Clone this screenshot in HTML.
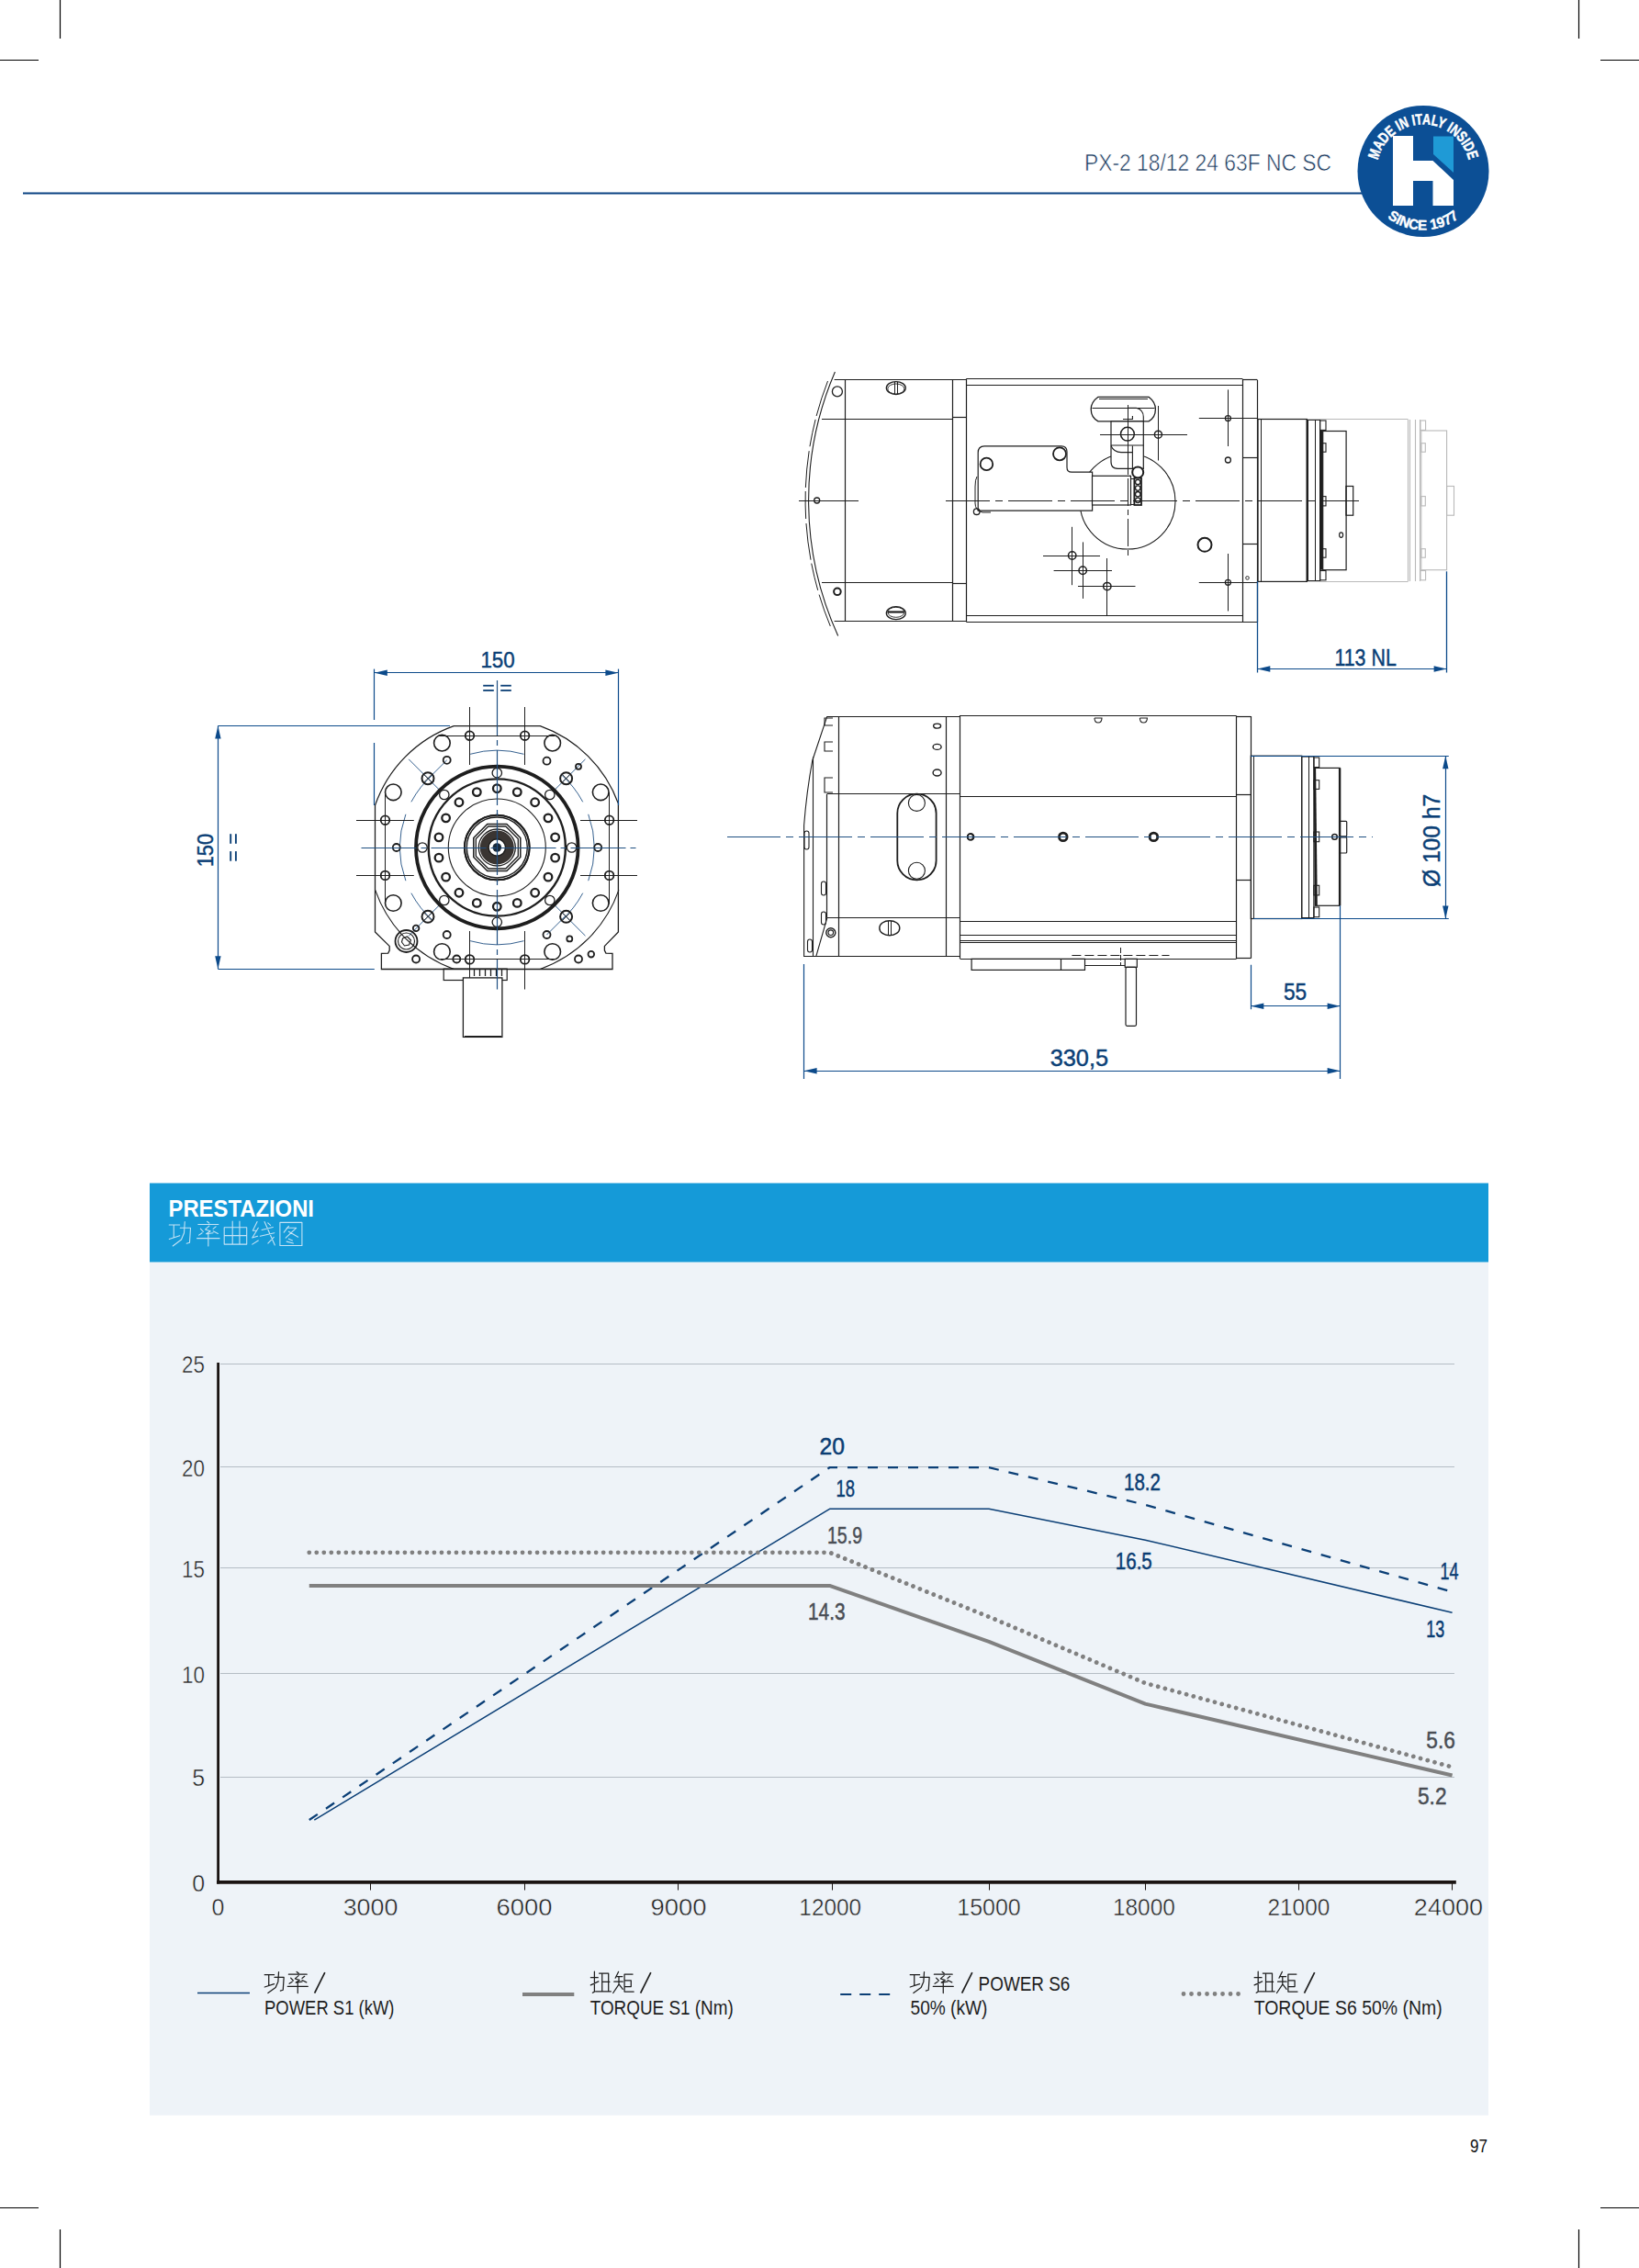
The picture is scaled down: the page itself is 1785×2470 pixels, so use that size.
<!DOCTYPE html>
<html><head><meta charset="utf-8"><style>
html,body{margin:0;padding:0;background:#fff;}
body{width:1785px;height:2470px;overflow:hidden;position:relative;}
svg{position:absolute;left:0;top:0;}
</style></head><body>
<svg width="1785" height="2470" viewBox="0 0 1785 2470">
<line x1="65.5" y1="0" x2="65.5" y2="42" stroke="#000" stroke-width="1.2"/>
<line x1="0" y1="65.5" x2="42" y2="65.5" stroke="#000" stroke-width="1.2"/>
<line x1="1719.5" y1="0" x2="1719.5" y2="42" stroke="#000" stroke-width="1.2"/>
<line x1="1743" y1="65.5" x2="1785" y2="65.5" stroke="#000" stroke-width="1.2"/>
<line x1="0" y1="2404.5" x2="42" y2="2404.5" stroke="#000" stroke-width="1.2"/>
<line x1="65.5" y1="2428" x2="65.5" y2="2470" stroke="#000" stroke-width="1.2"/>
<line x1="1743" y1="2404.5" x2="1785" y2="2404.5" stroke="#000" stroke-width="1.2"/>
<line x1="1719.5" y1="2428" x2="1719.5" y2="2470" stroke="#000" stroke-width="1.2"/>
<line x1="25" y1="210.5" x2="1490" y2="210.5" stroke="#0a4282" stroke-width="2.2"/>
<text x="1181" y="185.8" font-family="Liberation Sans" font-size="26" fill="#1b3a5e" stroke="#fff" stroke-width="0.55" textLength="269" lengthAdjust="spacingAndGlyphs">PX-2 18/12 24 63F NC SC</text>
<circle cx="1550" cy="186.5" r="71.5" stroke="none" stroke-width="0" fill="#0c4f95"/>
<path d="M1517 148 L1539 148 L1539 175 L1560.5 175 L1583 196 L1583 224 L1560.5 224 L1560.5 197 L1539 197 L1539 224 L1517 224Z" stroke="none" stroke-width="0" fill="#ffffff"/>
<path d="M1561 148.5 L1583 148.5 L1583 188 L1561 168Z" stroke="none" stroke-width="0" fill="#1f9ad6"/>
<defs><path id="arcT" d="M 1510.93 219.28 A 51 51 0 1 1 1589.07 219.28"/><path id="arcB" d="M 1500.97 145.36 A 64 64 0 1 0 1599.03 145.36"/></defs>
<text font-family="Liberation Sans" font-weight="bold" font-size="16.5" fill="#fff"><textPath href="#arcT" stroke="#fff" stroke-width="0.5" startOffset="50%" text-anchor="middle" textLength="136" lengthAdjust="spacingAndGlyphs">MADE IN ITALY INSIDE</textPath></text>
<text font-family="Liberation Sans" font-weight="bold" font-size="15.5" fill="#fff"><textPath href="#arcB" stroke="#fff" stroke-width="0.4" startOffset="50%" text-anchor="middle" textLength="84" lengthAdjust="spacingAndGlyphs">SINCE 1977</textPath></text>
<rect x="163" y="1288.5" width="1458" height="86.2" fill="#159ad8"/>
<rect x="163" y="1374.7" width="1458" height="929" fill="#eef3f8"/>
<text x="183.5" y="1325.4" font-family="Liberation Sans" font-size="25" fill="#ffffff" font-weight="bold" textLength="158.5" lengthAdjust="spacingAndGlyphs">PRESTAZIONI</text>
<line x1="240" y1="1935.5" x2="1584" y2="1935.5" stroke="#b5bdc5" stroke-width="1.1"/>
<line x1="240" y1="1822.5" x2="1584" y2="1822.5" stroke="#b5bdc5" stroke-width="1.1"/>
<line x1="240" y1="1707.5" x2="1584" y2="1707.5" stroke="#b5bdc5" stroke-width="1.1"/>
<line x1="240" y1="1597.5" x2="1584" y2="1597.5" stroke="#b5bdc5" stroke-width="1.1"/>
<line x1="240" y1="1485.5" x2="1584" y2="1485.5" stroke="#b5bdc5" stroke-width="1.1"/>
<line x1="237.6" y1="1484" x2="237.6" y2="2051.5" stroke="#1a1412" stroke-width="2.8"/>
<line x1="236" y1="2049.9" x2="1585.8" y2="2049.9" stroke="#1a1412" stroke-width="3.7"/>
<line x1="403.5" y1="2051" x2="403.5" y2="2058.5" stroke="#1a1412" stroke-width="1"/>
<line x1="571.5" y1="2051" x2="571.5" y2="2058.5" stroke="#1a1412" stroke-width="1"/>
<line x1="738.5" y1="2051" x2="738.5" y2="2058.5" stroke="#1a1412" stroke-width="1"/>
<line x1="906.5" y1="2051" x2="906.5" y2="2058.5" stroke="#1a1412" stroke-width="1"/>
<line x1="1077.5" y1="2051" x2="1077.5" y2="2058.5" stroke="#1a1412" stroke-width="1"/>
<line x1="1247.5" y1="2051" x2="1247.5" y2="2058.5" stroke="#1a1412" stroke-width="1"/>
<line x1="1414.5" y1="2051" x2="1414.5" y2="2058.5" stroke="#1a1412" stroke-width="1"/>
<line x1="1581.5" y1="2051" x2="1581.5" y2="2058.5" stroke="#1a1412" stroke-width="1"/>
<text x="223.1" y="2060.0" font-family="Liberation Sans" font-size="25" fill="#1e1e1e" stroke="#eef3f8" stroke-width="0.45" text-anchor="end">0</text>
<text x="223.1" y="1945.4" font-family="Liberation Sans" font-size="25" fill="#1e1e1e" stroke="#eef3f8" stroke-width="0.45" text-anchor="end">5</text>
<text x="223.1" y="1832.5" font-family="Liberation Sans" font-size="25" fill="#1e1e1e" stroke="#eef3f8" stroke-width="0.45" text-anchor="end" textLength="25" lengthAdjust="spacingAndGlyphs">10</text>
<text x="223.1" y="1718.1" font-family="Liberation Sans" font-size="25" fill="#1e1e1e" stroke="#eef3f8" stroke-width="0.45" text-anchor="end" textLength="25" lengthAdjust="spacingAndGlyphs">15</text>
<text x="223.1" y="1607.7" font-family="Liberation Sans" font-size="25" fill="#1e1e1e" stroke="#eef3f8" stroke-width="0.45" text-anchor="end" textLength="25" lengthAdjust="spacingAndGlyphs">20</text>
<text x="223.1" y="1495.3" font-family="Liberation Sans" font-size="25" fill="#1e1e1e" stroke="#eef3f8" stroke-width="0.45" text-anchor="end" textLength="25" lengthAdjust="spacingAndGlyphs">25</text>
<text x="237.4" y="2086.4" font-family="Liberation Sans" font-size="25" fill="#1e1e1e" stroke="#eef3f8" stroke-width="0.45" text-anchor="middle">0</text>
<text x="403.5" y="2086.4" font-family="Liberation Sans" font-size="25" fill="#1e1e1e" stroke="#eef3f8" stroke-width="0.45" text-anchor="middle" textLength="59.7" lengthAdjust="spacingAndGlyphs">3000</text>
<text x="571.0" y="2086.4" font-family="Liberation Sans" font-size="25" fill="#1e1e1e" stroke="#eef3f8" stroke-width="0.45" text-anchor="middle" textLength="61" lengthAdjust="spacingAndGlyphs">6000</text>
<text x="738.9" y="2086.4" font-family="Liberation Sans" font-size="25" fill="#1e1e1e" stroke="#eef3f8" stroke-width="0.45" text-anchor="middle" textLength="61" lengthAdjust="spacingAndGlyphs">9000</text>
<text x="904.2" y="2086.4" font-family="Liberation Sans" font-size="25" fill="#1e1e1e" stroke="#eef3f8" stroke-width="0.45" text-anchor="middle" textLength="67.7" lengthAdjust="spacingAndGlyphs">12000</text>
<text x="1077.0" y="2086.4" font-family="Liberation Sans" font-size="25" fill="#1e1e1e" stroke="#eef3f8" stroke-width="0.45" text-anchor="middle" textLength="69.5" lengthAdjust="spacingAndGlyphs">15000</text>
<text x="1245.9" y="2086.4" font-family="Liberation Sans" font-size="25" fill="#1e1e1e" stroke="#eef3f8" stroke-width="0.45" text-anchor="middle" textLength="68" lengthAdjust="spacingAndGlyphs">18000</text>
<text x="1414.4" y="2086.4" font-family="Liberation Sans" font-size="25" fill="#1e1e1e" stroke="#eef3f8" stroke-width="0.45" text-anchor="middle" textLength="68" lengthAdjust="spacingAndGlyphs">21000</text>
<text x="1577.5" y="2086.4" font-family="Liberation Sans" font-size="25" fill="#1e1e1e" stroke="#eef3f8" stroke-width="0.45" text-anchor="middle" textLength="75.3" lengthAdjust="spacingAndGlyphs">24000</text>
<path d="M342.3 1982.06 L903.5 1643.36 L1077 1643.36 L1247.3 1677.23 L1581.6 1756.26" stroke="#0b3f76" stroke-width="1.5" fill="none" stroke-linejoin="round"/>
<path d="M336.76 1982.06 L903.5 1598.2 L1077 1598.2 L1247.3 1638.84 L1581.6 1733.68" stroke="#0b3f76" stroke-width="2.3" fill="none" stroke-dasharray="11 11"/>
<path d="M336.76 1726.91 L903.5 1726.91 L1077 1787.87 L1247.3 1855.61 L1581.6 1933.51" stroke="#808080" stroke-width="4" fill="none" stroke-linejoin="round"/>
<path d="M336.76 1690.78 L903.5 1690.78 L1077 1760.78 L1247.3 1833.03 L1581.6 1924.48" stroke="#808080" stroke-width="4.8" fill="none" stroke-dasharray="0.01 8" stroke-linecap="round"/>
<text x="892.6" y="1583.6" font-family="Liberation Sans" font-size="26" fill="#0b3d73" stroke="#0b3d73" stroke-width="0.5" textLength="27.4" lengthAdjust="spacingAndGlyphs">20</text>
<text x="910.5" y="1629.7" font-family="Liberation Sans" font-size="26" fill="#0b3d73" stroke="#0b3d73" stroke-width="0.5" textLength="20.5" lengthAdjust="spacingAndGlyphs">18</text>
<text x="901" y="1680.6" font-family="Liberation Sans" font-size="26" fill="#4a4e55" stroke="#4a4e55" stroke-width="0.5" textLength="38" lengthAdjust="spacingAndGlyphs">15.9</text>
<text x="880" y="1764.4" font-family="Liberation Sans" font-size="26" fill="#4a4e55" stroke="#4a4e55" stroke-width="0.5" textLength="40.5" lengthAdjust="spacingAndGlyphs">14.3</text>
<text x="1224" y="1623" font-family="Liberation Sans" font-size="26" fill="#0b3d73" stroke="#0b3d73" stroke-width="0.5" textLength="40" lengthAdjust="spacingAndGlyphs">18.2</text>
<text x="1214.8" y="1708.8" font-family="Liberation Sans" font-size="26" fill="#0b3d73" stroke="#0b3d73" stroke-width="0.5" textLength="40" lengthAdjust="spacingAndGlyphs">16.5</text>
<text x="1568.6" y="1720.4" font-family="Liberation Sans" font-size="26" fill="#0b3d73" stroke="#0b3d73" stroke-width="0.5" textLength="20" lengthAdjust="spacingAndGlyphs">14</text>
<text x="1553.3" y="1783" font-family="Liberation Sans" font-size="26" fill="#0b3d73" stroke="#0b3d73" stroke-width="0.5" textLength="20" lengthAdjust="spacingAndGlyphs">13</text>
<text x="1553.3" y="1903.6" font-family="Liberation Sans" font-size="26" fill="#4a4e55" stroke="#4a4e55" stroke-width="0.5" textLength="31.5" lengthAdjust="spacingAndGlyphs">5.6</text>
<text x="1544" y="1965.2" font-family="Liberation Sans" font-size="26" fill="#4a4e55" stroke="#4a4e55" stroke-width="0.5" textLength="31.5" lengthAdjust="spacingAndGlyphs">5.2</text>
<line x1="215" y1="2170.5" x2="272" y2="2170.5" stroke="#0b3f76" stroke-width="1.3"/>
<line x1="569" y1="2172" x2="625.3" y2="2172" stroke="#808080" stroke-width="4"/>
<line x1="915.2" y1="2172" x2="976" y2="2172" stroke="#0b3f76" stroke-width="2.2" stroke-dasharray="12 9"/>
<line x1="1289" y1="2171.5" x2="1351" y2="2171.5" stroke="#808080" stroke-width="4.8" stroke-dasharray="0.01 8.5" stroke-linecap="round"/>
<text x="288" y="2193.9" font-family="Liberation Sans" font-size="21.3" fill="#1e1e1e" textLength="141.5" lengthAdjust="spacingAndGlyphs">POWER S1 (kW)</text>
<text x="642.7" y="2193.9" font-family="Liberation Sans" font-size="21.3" fill="#1e1e1e" textLength="156" lengthAdjust="spacingAndGlyphs">TORQUE S1 (Nm)</text>
<text x="991.5" y="2193.9" font-family="Liberation Sans" font-size="21.3" fill="#1e1e1e" textLength="84" lengthAdjust="spacingAndGlyphs">50% (kW)</text>
<text x="1365.7" y="2193.9" font-family="Liberation Sans" font-size="21.3" fill="#1e1e1e" textLength="205" lengthAdjust="spacingAndGlyphs">TORQUE S6 50% (Nm)</text>
<text x="1065.6" y="2167.8" font-family="Liberation Sans" font-size="21.3" fill="#1e1e1e" textLength="99.7" lengthAdjust="spacingAndGlyphs">POWER S6</text>
<line x1="342.6" y1="2170.6" x2="353.8" y2="2148.1" stroke="#1e1e1e" stroke-width="1.7"/>
<line x1="697.6" y1="2170.6" x2="708.8" y2="2148.1" stroke="#1e1e1e" stroke-width="1.7"/>
<line x1="1047.6" y1="2170.6" x2="1058.8" y2="2148.1" stroke="#1e1e1e" stroke-width="1.7"/>
<line x1="1420.5" y1="2170.6" x2="1431.7" y2="2148.1" stroke="#1e1e1e" stroke-width="1.7"/>
<text x="1601" y="2344" font-family="Liberation Sans" font-size="19.5" fill="#111" textLength="19" lengthAdjust="spacingAndGlyphs">97</text>
<line x1="908.6" y1="413.5" x2="1052.4" y2="413.5" stroke="#1e1e1e" stroke-width="1.2"/>
<line x1="908.6" y1="676.5" x2="1052.4" y2="676.5" stroke="#1e1e1e" stroke-width="1.2"/>
<line x1="920.5" y1="413.5" x2="920.5" y2="676.3" stroke="#1e1e1e" stroke-width="1.2"/>
<line x1="1037.5" y1="413.5" x2="1037.5" y2="676.3" stroke="#1e1e1e" stroke-width="1.2"/>
<line x1="1052.5" y1="412.4" x2="1052.5" y2="677.2" stroke="#1e1e1e" stroke-width="1.2"/>
<line x1="895" y1="456.5" x2="1037.6" y2="456.5" stroke="#1e1e1e" stroke-width="1.2"/>
<line x1="895" y1="634.5" x2="1037.6" y2="634.5" stroke="#1e1e1e" stroke-width="1.2"/>
<line x1="1037.6" y1="454.5" x2="1052.4" y2="454.5" stroke="#1e1e1e" stroke-width="1.2"/>
<line x1="1037.6" y1="635.5" x2="1052.4" y2="635.5" stroke="#1e1e1e" stroke-width="1.2"/>
<path d="M 909.4 405 A 354.7 354.7 0 0 0 912.68 692.4" stroke="#1e1e1e" stroke-width="1.1" fill="none"/>
<path d="M 901.52 415 A 358.2 358.2 0 0 0 904.33 682" stroke="#1e1e1e" stroke-width="1.0" fill="none" stroke-dasharray="40 4 30 5"/>
<circle cx="911.9" cy="426.4" r="5.5" stroke="#1e1e1e" stroke-width="1.3" fill="none"/>
<circle cx="889.7" cy="545" r="3" stroke="#1e1e1e" stroke-width="1.3" fill="none"/>
<circle cx="911.9" cy="644.3" r="3.8" stroke="#1e1e1e" stroke-width="2" fill="none"/>
<ellipse cx="975.8" cy="422.6" rx="10.5" ry="7" stroke="#1e1e1e" stroke-width="1.3" fill="none"/>
<ellipse cx="975.8" cy="423.5" rx="9" ry="5.5" stroke="#1e1e1e" stroke-width="0.9" fill="none"/>
<line x1="974.5" y1="415.8" x2="974.5" y2="429.5" stroke="#1e1e1e" stroke-width="1"/>
<line x1="977.5" y1="415.8" x2="977.5" y2="429.5" stroke="#1e1e1e" stroke-width="1"/>
<ellipse cx="975.8" cy="667.7" rx="10.5" ry="7" stroke="#1e1e1e" stroke-width="1.3" fill="none"/>
<ellipse cx="975.8" cy="666.8" rx="9" ry="5.5" stroke="#1e1e1e" stroke-width="0.9" fill="none"/>
<line x1="967" y1="666.5" x2="984.5" y2="666.5" stroke="#1e1e1e" stroke-width="2.2"/>
<line x1="870" y1="545.5" x2="935" y2="545.5" stroke="#1e1e1e" stroke-width="1"/>
<line x1="1052.4" y1="412.5" x2="1353.2" y2="412.5" stroke="#1e1e1e" stroke-width="1.2"/>
<line x1="1052.4" y1="419.5" x2="1353.2" y2="419.5" stroke="#1e1e1e" stroke-width="1.2"/>
<line x1="1052.4" y1="670.5" x2="1353.2" y2="670.5" stroke="#1e1e1e" stroke-width="1.2"/>
<line x1="1052.4" y1="677.5" x2="1369.3" y2="677.5" stroke="#1e1e1e" stroke-width="1.2"/>
<line x1="1353.5" y1="412.7" x2="1353.5" y2="677.2" stroke="#1e1e1e" stroke-width="1.2"/>
<line x1="1369.5" y1="413.7" x2="1369.5" y2="677" stroke="#1e1e1e" stroke-width="1.2"/>
<line x1="1353.2" y1="413.5" x2="1369.3" y2="413.5" stroke="#1e1e1e" stroke-width="1.2"/>
<line x1="1353.2" y1="498.5" x2="1369.3" y2="498.5" stroke="#1e1e1e" stroke-width="1.2"/>
<line x1="1353.2" y1="592.5" x2="1369.3" y2="592.5" stroke="#1e1e1e" stroke-width="1.2"/>
<circle cx="1228" cy="546" r="52" stroke="#1e1e1e" stroke-width="1.1" fill="none"/>
<path d="M 1189.6 514.2 L 1167 514.2 Q 1162 514.2 1162 509 L 1162 492 Q 1162 485.9 1156 485.9 L 1072 485.9 Q 1065.2 485.9 1065.2 493 L 1065.2 556.2 L 1189.6 556.2 Z" stroke="#1e1e1e" stroke-width="1.2" fill="#fff"/>
<path d="M 1064 519 Q 1062 522 1062 530 L 1062 548 Q 1062 556 1070 558 L 1079 558" stroke="#1e1e1e" stroke-width="1" fill="none"/>
<circle cx="1074.4" cy="505.4" r="6.8" stroke="#1e1e1e" stroke-width="1.8" fill="none"/>
<circle cx="1154" cy="494.3" r="7" stroke="#1e1e1e" stroke-width="1.8" fill="none"/>
<circle cx="1063.7" cy="557.2" r="3.3" stroke="#1e1e1e" stroke-width="1.3" fill="none"/>
<rect x="1189.5" y="518.3" width="42" height="31.7" stroke="#1e1e1e" stroke-width="1.2" fill="#fff"/>
<path d="M 1196 432.3 L 1251 432.3 Q 1258.4 438 1258.4 445.6 Q 1258.4 455 1251 458.9 L 1196 458.9 Q 1188.2 455 1188.2 445.6 Q 1188.2 438 1196 432.3 Z" stroke="#1e1e1e" stroke-width="1.3" fill="#fff"/>
<line x1="1197" y1="434.5" x2="1250" y2="434.5" stroke="#1e1e1e" stroke-width="1"/>
<line x1="1189.5" y1="444.5" x2="1257.5" y2="444.5" stroke="#1e1e1e" stroke-width="1.1"/>
<path d="M 1228.7 444.2 L 1237.4 444.2 Q 1245.3 446 1245.3 454 L 1245.3 459" stroke="#1e1e1e" stroke-width="1.1" fill="none"/>
<path d="M 1223 456.5 L 1233.4 456.5 L 1233.4 453.5 L 1234 453.5" stroke="#1e1e1e" stroke-width="1.1" fill="none"/>
<path d="M 1210 458.9 L 1210 503 Q 1210 510.4 1217.5 510.4 L 1245.3 510.4 L 1245.3 458.9 Z" stroke="#1e1e1e" stroke-width="1.2" fill="#fff"/>
<path d="M 1210 485 L 1245.3 485 M 1210 485.5 Q 1213 492.6 1221 492.6 L 1233.4 492.6 M 1233.4 485.8 L 1233.4 510.4" stroke="#1e1e1e" stroke-width="1.1" fill="none"/>
<circle cx="1227.9" cy="472.7" r="7.4" stroke="#1e1e1e" stroke-width="1.5" fill="none"/>
<line x1="1228.5" y1="441" x2="1228.5" y2="517" stroke="#1e1e1e" stroke-width="1"/>
<line x1="1228.5" y1="521" x2="1228.5" y2="605" stroke="#1e1e1e" stroke-width="1" stroke-dasharray="30 4 6 4"/>
<circle cx="1239.2" cy="514.4" r="6" stroke="#1e1e1e" stroke-width="2" fill="#fff"/>
<rect x="1235.4" y="520.7" width="7.6" height="29.3" stroke="#1e1e1e" stroke-width="1.8" fill="#fff"/>
<circle cx="1239.2" cy="525" r="2.7" stroke="#1e1e1e" stroke-width="1.3" fill="none"/>
<circle cx="1239.2" cy="531.6" r="2.7" stroke="#1e1e1e" stroke-width="1.3" fill="none"/>
<circle cx="1239.2" cy="538.2" r="2.7" stroke="#1e1e1e" stroke-width="1.3" fill="none"/>
<circle cx="1239.2" cy="544.8" r="2.7" stroke="#1e1e1e" stroke-width="1.3" fill="none"/>
<rect x="1231.5" y="521.5" width="3.9" height="28" stroke="#1e1e1e" stroke-width="1" fill="none"/>
<line x1="1030" y1="545.5" x2="1480" y2="545.5" stroke="#1e1e1e" stroke-width="1" stroke-dasharray="48 6 8 6"/>
<circle cx="1261.4" cy="473.2" r="4" stroke="#1e1e1e" stroke-width="1.5" fill="none"/>
<line x1="1198" y1="473.5" x2="1293" y2="473.5" stroke="#1e1e1e" stroke-width="1"/>
<line x1="1261.5" y1="442" x2="1261.5" y2="501.5" stroke="#1e1e1e" stroke-width="1"/>
<circle cx="1337.4" cy="455.6" r="3" stroke="#1e1e1e" stroke-width="1.3" fill="none"/>
<line x1="1305.8" y1="455.5" x2="1370" y2="455.5" stroke="#1e1e1e" stroke-width="1"/>
<line x1="1337.5" y1="424.4" x2="1337.5" y2="486" stroke="#1e1e1e" stroke-width="1"/>
<circle cx="1337.4" cy="501" r="3" stroke="#1e1e1e" stroke-width="1.3" fill="none"/>
<circle cx="1312" cy="593.3" r="7.5" stroke="#1e1e1e" stroke-width="2" fill="none"/>
<circle cx="1337.4" cy="634.3" r="3" stroke="#1e1e1e" stroke-width="1.3" fill="none"/>
<line x1="1305.8" y1="634.5" x2="1370" y2="634.5" stroke="#1e1e1e" stroke-width="1"/>
<line x1="1337.5" y1="603" x2="1337.5" y2="665.5" stroke="#1e1e1e" stroke-width="1"/>
<circle cx="1167.7" cy="605" r="4.2" stroke="#1e1e1e" stroke-width="1.5" fill="none"/>
<line x1="1136" y1="605.5" x2="1198" y2="605.5" stroke="#1e1e1e" stroke-width="1"/>
<line x1="1167.5" y1="573.8" x2="1167.5" y2="637.2" stroke="#1e1e1e" stroke-width="1"/>
<circle cx="1179.2" cy="621.2" r="4.2" stroke="#1e1e1e" stroke-width="1.5" fill="none"/>
<line x1="1147.6" y1="621.5" x2="1211" y2="621.5" stroke="#1e1e1e" stroke-width="1"/>
<line x1="1179.5" y1="590.4" x2="1179.5" y2="651.9" stroke="#1e1e1e" stroke-width="1"/>
<circle cx="1205.8" cy="638.6" r="4.2" stroke="#1e1e1e" stroke-width="1.5" fill="none"/>
<line x1="1174" y1="638.5" x2="1236.5" y2="638.5" stroke="#1e1e1e" stroke-width="1"/>
<line x1="1205.5" y1="608" x2="1205.5" y2="670.4" stroke="#1e1e1e" stroke-width="1"/>
<circle cx="1358.5" cy="629.4" r="1.8" stroke="#1e1e1e" stroke-width="1" fill="none"/>
<rect x="1370" y="456.5" width="53.3" height="176.9" stroke="#1e1e1e" stroke-width="1.2" fill="none"/>
<line x1="1373.5" y1="457" x2="1373.5" y2="633" stroke="#1e1e1e" stroke-width="1"/>
<rect x="1423.3" y="457.3" width="14.3" height="175.3" stroke="#1e1e1e" stroke-width="1.2" fill="none"/>
<line x1="1424.5" y1="457.3" x2="1424.5" y2="632.6" stroke="#1e1e1e" stroke-width="1"/>
<line x1="1432.5" y1="457.3" x2="1432.5" y2="632.6" stroke="#1e1e1e" stroke-width="1"/>
<rect x="1437.6" y="458" width="6.4" height="10.4" stroke="#1e1e1e" stroke-width="1.1" fill="none"/>
<rect x="1437.6" y="621.5" width="6.4" height="10.3" stroke="#1e1e1e" stroke-width="1.1" fill="none"/>
<line x1="1439.2" y1="469" x2="1439.2" y2="620.7" stroke="#1e1e1e" stroke-width="2.6"/>
<rect x="1440.7" y="469.5" width="25.4" height="151.2" stroke="#1e1e1e" stroke-width="1.2" fill="none"/>
<rect x="1439.5" y="482.7" width="4.5" height="9.5" stroke="#1e1e1e" stroke-width="1.1" fill="none"/>
<rect x="1439.5" y="540.6" width="4.5" height="10.3" stroke="#1e1e1e" stroke-width="1.1" fill="none"/>
<rect x="1439.5" y="597.7" width="4.5" height="9.5" stroke="#1e1e1e" stroke-width="1.1" fill="none"/>
<rect x="1466" y="529.5" width="7.7" height="31.7" stroke="#1e1e1e" stroke-width="1.2" fill="none"/>
<ellipse cx="1460.6" cy="582.6" rx="2" ry="2.8" stroke="#1e1e1e" stroke-width="1.2" fill="none"/>
<line x1="1437.6" y1="456.5" x2="1533.5" y2="456.5" stroke="#b9b9b9" stroke-width="1.1"/>
<line x1="1437.6" y1="633.5" x2="1533.5" y2="633.5" stroke="#b9b9b9" stroke-width="1.1"/>
<line x1="1533.5" y1="457" x2="1533.5" y2="633" stroke="#b9b9b9" stroke-width="1.1"/>
<line x1="1535.5" y1="457" x2="1535.5" y2="633" stroke="#b9b9b9" stroke-width="1.1"/>
<line x1="1541.5" y1="457" x2="1541.5" y2="633" stroke="#b9b9b9" stroke-width="1.1"/>
<line x1="1546.5" y1="457" x2="1546.5" y2="633" stroke="#b9b9b9" stroke-width="1.1"/>
<rect x="1547" y="458" width="5.6" height="10.4" stroke="#b9b9b9" stroke-width="1.1" fill="none"/>
<rect x="1547" y="621.5" width="5.6" height="10.3" stroke="#b9b9b9" stroke-width="1.1" fill="none"/>
<rect x="1547.8" y="469" width="27.8" height="151.7" stroke="#b9b9b9" stroke-width="1.1" fill="none"/>
<rect x="1547.8" y="482.7" width="4.5" height="9.5" stroke="#b9b9b9" stroke-width="1.1" fill="none"/>
<rect x="1547.8" y="540.6" width="4.5" height="10.3" stroke="#b9b9b9" stroke-width="1.1" fill="none"/>
<rect x="1547.8" y="597.7" width="4.5" height="9.5" stroke="#b9b9b9" stroke-width="1.1" fill="none"/>
<rect x="1575.6" y="529.5" width="7.9" height="31.7" stroke="#b9b9b9" stroke-width="1.1" fill="none"/>
<line x1="1369.5" y1="633" x2="1369.5" y2="732.5" stroke="#0c4a8a" stroke-width="1.3"/>
<line x1="1575.5" y1="622.3" x2="1575.5" y2="732.5" stroke="#0c4a8a" stroke-width="1.3"/>
<line x1="1369.3" y1="728.5" x2="1575.6" y2="728.5" stroke="#0c4a8a" stroke-width="1.2"/>
<path d="M1369.3 728.5 L1383.3 725.3 L1383.3 731.7Z" stroke="none" stroke-width="0" fill="#0c4a8a"/>
<path d="M1575.6 728.5 L1561.6 731.7 L1561.6 725.3Z" stroke="none" stroke-width="0" fill="#0c4a8a"/>
<text x="1453.4" y="724.6" font-family="Liberation Sans" font-size="25.5" fill="#0b3f76" stroke="#0b3f76" stroke-width="0.45" textLength="67.4" lengthAdjust="spacingAndGlyphs">113 NL</text>
<path d="M 494.28 790.6 L 588.32 790.6 A 140.5 140.5 0 0 1 673.4 875.15 L 673.4 1015 L 658.4 1030.4 L 658.4 1035.1 L 659.9 1038.1 L 667 1038.3 L 667 1055.5 L 415.4 1055.5 L 415.4 1038.3 L 422.7 1038.1 L 424.2 1035.1 L 424.2 1030.4 L 408.5 1015 L 408.5 877.13 A 140.5 140.5 0 0 1 494.28 790.6 Z" stroke="#1e1e1e" stroke-width="1.3" fill="none" stroke-linejoin="miter"/>
<path d="M 408.7 969.44 A 140.5 140.5 0 0 0 494.4 1055.44" stroke="#1e1e1e" stroke-width="1.1" fill="none"/>
<path d="M 588.2 1055.44 A 140.5 140.5 0 0 0 673.9 969.44" stroke="#1e1e1e" stroke-width="1.1" fill="none"/>
<line x1="478" y1="801.5" x2="604" y2="801.5" stroke="#1e1e1e" stroke-width="1"/>
<line x1="480" y1="1044.5" x2="604" y2="1044.5" stroke="#1e1e1e" stroke-width="1"/>
<path d="M 512.14 821.3 A 105.8 105.8 0 0 1 570.46 821.3" stroke="#1f4f82" stroke-width="0.9" fill="none"/>
<path d="M 570.46 1024.7 A 105.8 105.8 0 0 1 512.14 1024.7" stroke="#1f4f82" stroke-width="0.9" fill="none"/>
<path d="M 441.88 959.19 A 105.8 105.8 0 0 1 441.88 886.81" stroke="#1f4f82" stroke-width="0.9" fill="none"/>
<path d="M 640.72 886.81 A 105.8 105.8 0 0 1 640.72 959.19" stroke="#1f4f82" stroke-width="0.9" fill="none"/>
<path d="M 447.88 873.33 A 105.8 105.8 0 0 1 471.89 843.15" stroke="#1f4f82" stroke-width="0.9" fill="none"/>
<path d="M 610.71 843.15 A 105.8 105.8 0 0 1 634.72 873.33" stroke="#1f4f82" stroke-width="0.9" fill="none"/>
<path d="M 471.89 1002.85 A 105.8 105.8 0 0 1 447.88 972.67" stroke="#1f4f82" stroke-width="0.9" fill="none"/>
<path d="M 634.72 972.67 A 105.8 105.8 0 0 1 610.71 1002.85" stroke="#1f4f82" stroke-width="0.9" fill="none"/>
<line x1="596.45" y1="978.15" x2="637.47" y2="1019.17" stroke="#1f4f82" stroke-width="0.9"/>
<line x1="486.15" y1="978.15" x2="445.13" y2="1019.17" stroke="#1f4f82" stroke-width="0.9"/>
<line x1="486.15" y1="867.85" x2="445.13" y2="826.83" stroke="#1f4f82" stroke-width="0.9"/>
<line x1="596.45" y1="867.85" x2="637.47" y2="826.83" stroke="#1f4f82" stroke-width="0.9"/>
<line x1="466.3" y1="848.1" x2="486.7" y2="827.8" stroke="#1f4f82" stroke-width="0.9"/>
<line x1="615.9" y1="997.6" x2="595.5" y2="1018" stroke="#1f4f82" stroke-width="0.9"/>
<circle cx="541.3" cy="923" r="88.3" stroke="#1e1e1e" stroke-width="3.8" fill="none"/>
<circle cx="541.3" cy="923" r="74.6" stroke="#1e1e1e" stroke-width="2.4" fill="none"/>
<circle cx="541.3" cy="923" r="53" stroke="#1e1e1e" stroke-width="1.1" fill="none"/>
<circle cx="541.3" cy="923" r="35.5" stroke="#1e1e1e" stroke-width="1.6" fill="none"/>
<circle cx="541.3" cy="923" r="35.3" stroke="#1e1e1e" stroke-width="2" fill="none"/>
<circle cx="541.3" cy="923" r="33" stroke="#1e1e1e" stroke-width="1.4" fill="none"/>
<path d="M566.8 933.56 L551.86 948.5 L530.74 948.5 L515.8 933.56 L515.8 912.44 L530.74 897.5 L551.86 897.5 L566.8 912.44Z" stroke="#1e1e1e" stroke-width="1.5" fill="none"/>
<path d="M564.3 932.53 L550.83 946 L531.77 946 L518.3 932.53 L518.3 913.47 L531.77 900 L550.83 900 L564.3 913.47Z" stroke="#1e1e1e" stroke-width="1.3" fill="none"/>
<circle cx="541.3" cy="923" r="13.8" stroke="#3a3532" stroke-width="9.5" fill="none"/>
<circle cx="541.3" cy="923" r="20" stroke="#1e1e1e" stroke-width="1.3" fill="none"/>
<circle cx="541.3" cy="923" r="9.2" stroke="#1e1e1e" stroke-width="1.4" fill="none"/>
<circle cx="541.3" cy="923" r="4.8" stroke="#1a2a3a" stroke-width="0" fill="#1a2a3a"/>
<circle cx="541.3" cy="858.7" r="4.3" stroke="#1e1e1e" stroke-width="2.3" fill="none"/>
<circle cx="563.29" cy="862.58" r="4.3" stroke="#1e1e1e" stroke-width="2.3" fill="none"/>
<circle cx="582.63" cy="873.74" r="4.3" stroke="#1e1e1e" stroke-width="2.3" fill="none"/>
<circle cx="596.99" cy="890.85" r="4.3" stroke="#1e1e1e" stroke-width="2.3" fill="none"/>
<circle cx="604.62" cy="911.83" r="4.3" stroke="#1e1e1e" stroke-width="2.3" fill="none"/>
<circle cx="604.62" cy="934.17" r="4.3" stroke="#1e1e1e" stroke-width="2.3" fill="none"/>
<circle cx="596.99" cy="955.15" r="4.3" stroke="#1e1e1e" stroke-width="2.3" fill="none"/>
<circle cx="582.63" cy="972.26" r="4.3" stroke="#1e1e1e" stroke-width="2.3" fill="none"/>
<circle cx="563.29" cy="983.42" r="4.3" stroke="#1e1e1e" stroke-width="2.3" fill="none"/>
<circle cx="541.3" cy="987.3" r="4.3" stroke="#1e1e1e" stroke-width="2.3" fill="none"/>
<circle cx="519.31" cy="983.42" r="4.3" stroke="#1e1e1e" stroke-width="2.3" fill="none"/>
<circle cx="499.97" cy="972.26" r="4.3" stroke="#1e1e1e" stroke-width="2.3" fill="none"/>
<circle cx="485.61" cy="955.15" r="4.3" stroke="#1e1e1e" stroke-width="2.3" fill="none"/>
<circle cx="477.98" cy="934.17" r="4.3" stroke="#1e1e1e" stroke-width="2.3" fill="none"/>
<circle cx="477.98" cy="911.83" r="4.3" stroke="#1e1e1e" stroke-width="2.3" fill="none"/>
<circle cx="485.61" cy="890.85" r="4.3" stroke="#1e1e1e" stroke-width="2.3" fill="none"/>
<circle cx="499.97" cy="873.74" r="4.3" stroke="#1e1e1e" stroke-width="2.3" fill="none"/>
<circle cx="519.31" cy="862.58" r="4.3" stroke="#1e1e1e" stroke-width="2.3" fill="none"/>
<circle cx="622.6" cy="923" r="5.2" stroke="#1e1e1e" stroke-width="1.3" fill="#fff"/>
<circle cx="598.79" cy="980.49" r="5.2" stroke="#1e1e1e" stroke-width="1.3" fill="#fff"/>
<circle cx="541.3" cy="1004.3" r="5.2" stroke="#1e1e1e" stroke-width="1.3" fill="#fff"/>
<circle cx="483.81" cy="980.49" r="5.2" stroke="#1e1e1e" stroke-width="1.3" fill="#fff"/>
<circle cx="460" cy="923" r="5.2" stroke="#1e1e1e" stroke-width="1.3" fill="#fff"/>
<circle cx="483.81" cy="865.51" r="5.2" stroke="#1e1e1e" stroke-width="1.3" fill="#fff"/>
<circle cx="541.3" cy="841.7" r="5.2" stroke="#1e1e1e" stroke-width="1.3" fill="#fff"/>
<circle cx="598.79" cy="865.51" r="5.2" stroke="#1e1e1e" stroke-width="1.3" fill="#fff"/>
<circle cx="616.61" cy="998.31" r="6.5" stroke="#1e1e1e" stroke-width="2" fill="none"/>
<line x1="612.01" y1="993.71" x2="621.21" y2="1002.91" stroke="#1e1e1e" stroke-width="0.9"/>
<line x1="612.01" y1="1002.91" x2="621.21" y2="993.71" stroke="#1e1e1e" stroke-width="0.9"/>
<circle cx="465.99" cy="998.31" r="6.5" stroke="#1e1e1e" stroke-width="2" fill="none"/>
<line x1="461.39" y1="993.71" x2="470.59" y2="1002.91" stroke="#1e1e1e" stroke-width="0.9"/>
<line x1="461.39" y1="1002.91" x2="470.59" y2="993.71" stroke="#1e1e1e" stroke-width="0.9"/>
<circle cx="465.99" cy="847.69" r="6.5" stroke="#1e1e1e" stroke-width="2" fill="none"/>
<line x1="461.39" y1="843.09" x2="470.59" y2="852.29" stroke="#1e1e1e" stroke-width="0.9"/>
<line x1="461.39" y1="852.29" x2="470.59" y2="843.09" stroke="#1e1e1e" stroke-width="0.9"/>
<circle cx="616.61" cy="847.69" r="6.5" stroke="#1e1e1e" stroke-width="2" fill="none"/>
<line x1="612.01" y1="843.09" x2="621.21" y2="852.29" stroke="#1e1e1e" stroke-width="0.9"/>
<line x1="612.01" y1="852.29" x2="621.21" y2="843.09" stroke="#1e1e1e" stroke-width="0.9"/>
<circle cx="481.4" cy="809.2" r="8.8" stroke="#1e1e1e" stroke-width="1.6" fill="none"/>
<circle cx="601.7" cy="809.2" r="8.8" stroke="#1e1e1e" stroke-width="1.6" fill="none"/>
<circle cx="428.3" cy="862.8" r="8.8" stroke="#1e1e1e" stroke-width="1.6" fill="none"/>
<circle cx="654.2" cy="862.8" r="8.8" stroke="#1e1e1e" stroke-width="1.6" fill="none"/>
<circle cx="428.3" cy="983.5" r="8.8" stroke="#1e1e1e" stroke-width="1.6" fill="none"/>
<circle cx="654.2" cy="983.5" r="8.8" stroke="#1e1e1e" stroke-width="1.6" fill="none"/>
<circle cx="481.4" cy="1036.5" r="8.8" stroke="#1e1e1e" stroke-width="1.6" fill="none"/>
<circle cx="601.7" cy="1036.5" r="8.8" stroke="#1e1e1e" stroke-width="1.6" fill="none"/>
<circle cx="511.5" cy="801.2" r="4.8" stroke="#1e1e1e" stroke-width="1.8" fill="none"/>
<circle cx="571.6" cy="801.2" r="4.8" stroke="#1e1e1e" stroke-width="1.8" fill="none"/>
<circle cx="419.5" cy="893.2" r="4.8" stroke="#1e1e1e" stroke-width="1.8" fill="none"/>
<circle cx="663.6" cy="893.2" r="4.8" stroke="#1e1e1e" stroke-width="1.8" fill="none"/>
<circle cx="419.5" cy="953.4" r="4.8" stroke="#1e1e1e" stroke-width="1.8" fill="none"/>
<circle cx="663.6" cy="953.4" r="4.8" stroke="#1e1e1e" stroke-width="1.8" fill="none"/>
<circle cx="511.5" cy="1044.9" r="4.8" stroke="#1e1e1e" stroke-width="1.8" fill="none"/>
<circle cx="571.6" cy="1044.9" r="4.8" stroke="#1e1e1e" stroke-width="1.8" fill="none"/>
<line x1="388" y1="893.5" x2="450.8" y2="893.5" stroke="#1e1e1e" stroke-width="1"/>
<line x1="388" y1="953.5" x2="450.8" y2="953.5" stroke="#1e1e1e" stroke-width="1"/>
<line x1="419.5" y1="863" x2="419.5" y2="984.6" stroke="#1e1e1e" stroke-width="1"/>
<line x1="663.5" y1="863" x2="663.5" y2="984.6" stroke="#1e1e1e" stroke-width="1"/>
<line x1="632" y1="893.5" x2="694" y2="893.5" stroke="#1e1e1e" stroke-width="1"/>
<line x1="632" y1="953.5" x2="694" y2="953.5" stroke="#1e1e1e" stroke-width="1"/>
<line x1="511.5" y1="770" x2="511.5" y2="833" stroke="#1e1e1e" stroke-width="1"/>
<line x1="571.5" y1="770" x2="571.5" y2="833" stroke="#1e1e1e" stroke-width="1"/>
<line x1="511.5" y1="1014" x2="511.5" y2="1077.5" stroke="#1e1e1e" stroke-width="1"/>
<line x1="571.5" y1="1014" x2="571.5" y2="1077.5" stroke="#1e1e1e" stroke-width="1"/>
<circle cx="486.7" cy="827.8" r="4" stroke="#1e1e1e" stroke-width="1.8" fill="none"/>
<circle cx="595.5" cy="828.7" r="4" stroke="#1e1e1e" stroke-width="1.8" fill="none"/>
<circle cx="630" cy="834.8" r="3" stroke="#1e1e1e" stroke-width="1.8" fill="none"/>
<circle cx="453.1" cy="1010.9" r="3.3" stroke="#1e1e1e" stroke-width="1.8" fill="none"/>
<circle cx="486.7" cy="1018" r="4" stroke="#1e1e1e" stroke-width="1.8" fill="none"/>
<circle cx="595.5" cy="1018" r="4" stroke="#1e1e1e" stroke-width="1.8" fill="none"/>
<circle cx="620.3" cy="1022.4" r="3" stroke="#1e1e1e" stroke-width="1.8" fill="none"/>
<circle cx="453.1" cy="1044.5" r="4" stroke="#1e1e1e" stroke-width="1.8" fill="none"/>
<circle cx="497.3" cy="1044.5" r="4" stroke="#1e1e1e" stroke-width="1.8" fill="none"/>
<circle cx="630" cy="1044.5" r="4" stroke="#1e1e1e" stroke-width="1.8" fill="none"/>
<circle cx="643.8" cy="1039.2" r="3.3" stroke="#1e1e1e" stroke-width="1.8" fill="none"/>
<circle cx="431.8" cy="923" r="4" stroke="#1e1e1e" stroke-width="1.8" fill="none"/>
<circle cx="651.2" cy="923" r="4" stroke="#1e1e1e" stroke-width="1.8" fill="none"/>
<circle cx="442.5" cy="1025" r="12" stroke="#1e1e1e" stroke-width="1.8" fill="none"/>
<circle cx="442.5" cy="1025" r="9" stroke="#1e1e1e" stroke-width="1.1" fill="none"/>
<path d="M438.5 1022 L443.5 1020 L447.5 1024 L445.5 1029 L440.5 1030 L437.5 1026Z" stroke="#1e1e1e" stroke-width="1.1" fill="none"/>
<rect x="483.2" y="1055.1" width="69" height="12.4" stroke="#1e1e1e" stroke-width="1.2" fill="none"/>
<rect x="504.4" y="1064.9" width="42.5" height="64.5" stroke="#1e1e1e" stroke-width="1.3" fill="#fff"/>
<line x1="516.5" y1="1056" x2="516.5" y2="1063" stroke="#1e1e1e" stroke-width="1.3"/>
<line x1="522.5" y1="1056" x2="522.5" y2="1063" stroke="#1e1e1e" stroke-width="1.3"/>
<line x1="528.5" y1="1056" x2="528.5" y2="1063" stroke="#1e1e1e" stroke-width="1.3"/>
<line x1="534.5" y1="1056" x2="534.5" y2="1063" stroke="#1e1e1e" stroke-width="1.3"/>
<line x1="540.5" y1="1056" x2="540.5" y2="1063" stroke="#1e1e1e" stroke-width="1.3"/>
<line x1="546.5" y1="1056" x2="546.5" y2="1063" stroke="#1e1e1e" stroke-width="1.3"/>
<path d="M 506 1129 L 546 1129" stroke="#1e1e1e" stroke-width="2" fill="none"/>
<line x1="393.5" y1="923.5" x2="693" y2="923.5" stroke="#1f4f82" stroke-width="1.2" stroke-dasharray="60 5 6 5"/>
<line x1="541.5" y1="741" x2="541.5" y2="1077.5" stroke="#1f4f82" stroke-width="1.2" stroke-dasharray="60 5 6 5"/>
<line x1="407.5" y1="728.6" x2="407.5" y2="784" stroke="#0c4a8a" stroke-width="1.2"/>
<line x1="407.5" y1="809" x2="407.5" y2="877" stroke="#0c4a8a" stroke-width="1.2"/>
<line x1="673.5" y1="728.6" x2="673.5" y2="877" stroke="#0c4a8a" stroke-width="1.2"/>
<line x1="407.8" y1="732.5" x2="673.4" y2="732.5" stroke="#0c4a8a" stroke-width="1.2"/>
<path d="M407.8 732.7 L421.8 729.5 L421.8 735.9Z" stroke="none" stroke-width="0" fill="#0c4a8a"/>
<path d="M673.4 732.7 L659.4 735.9 L659.4 729.5Z" stroke="none" stroke-width="0" fill="#0c4a8a"/>
<text x="523.4" y="727" font-family="Liberation Sans" font-size="24" fill="#0b3f76" stroke="#0b3f76" stroke-width="0.45" textLength="37.3" lengthAdjust="spacingAndGlyphs">150</text>
<line x1="526.2" y1="746.7" x2="537.8" y2="746.7" stroke="#0b3f76" stroke-width="1.8"/>
<line x1="526.2" y1="751.9" x2="537.8" y2="751.9" stroke="#0b3f76" stroke-width="1.8"/>
<line x1="545.2" y1="746.7" x2="556.8" y2="746.7" stroke="#0b3f76" stroke-width="1.8"/>
<line x1="545.2" y1="751.9" x2="556.8" y2="751.9" stroke="#0b3f76" stroke-width="1.8"/>
<line x1="237.4" y1="790.5" x2="490" y2="790.5" stroke="#0c4a8a" stroke-width="1.2"/>
<line x1="237.4" y1="1055.5" x2="407.8" y2="1055.5" stroke="#0c4a8a" stroke-width="1.2"/>
<line x1="237.5" y1="790.4" x2="237.5" y2="1055.3" stroke="#0c4a8a" stroke-width="1.2"/>
<path d="M237.4 790.4 L240.6 804.4 L234.2 804.4Z" stroke="none" stroke-width="0" fill="#0c4a8a"/>
<path d="M237.4 1055.3 L234.2 1041.3 L240.6 1041.3Z" stroke="none" stroke-width="0" fill="#0c4a8a"/>
<text x="0" y="0" font-family="Liberation Sans" font-size="24" fill="#0b3f76" stroke="#0b3f76" stroke-width="0.45" textLength="36.5" lengthAdjust="spacingAndGlyphs" transform="translate(231.7,944.3) rotate(-90)">150</text>
<line x1="251.2" y1="908.2" x2="251.2" y2="918.8" stroke="#0b3f76" stroke-width="1.9"/>
<line x1="256.9" y1="908.2" x2="256.9" y2="918.8" stroke="#0b3f76" stroke-width="1.9"/>
<line x1="251.2" y1="927.1" x2="251.2" y2="937.7" stroke="#0b3f76" stroke-width="1.9"/>
<line x1="256.9" y1="927.1" x2="256.9" y2="937.7" stroke="#0b3f76" stroke-width="1.9"/>
<line x1="900.8" y1="780.5" x2="1045.8" y2="780.5" stroke="#1e1e1e" stroke-width="1.2"/>
<line x1="875.6" y1="1041.5" x2="1045.8" y2="1041.5" stroke="#1e1e1e" stroke-width="1.2"/>
<path d="M 900.8 780.1 L 884.7 828.5 Q 878.5 862 875.6 899 L 875.6 1041.9" stroke="#1e1e1e" stroke-width="1.1" fill="none"/>
<line x1="885.5" y1="824.4" x2="885.5" y2="1041.9" stroke="#1e1e1e" stroke-width="1.1"/>
<line x1="900.5" y1="864.7" x2="900.5" y2="999.6" stroke="#1e1e1e" stroke-width="1.2"/>
<line x1="900.8" y1="999.6" x2="888.7" y2="1041.9" stroke="#1e1e1e" stroke-width="1.1"/>
<line x1="900.8" y1="864.5" x2="1045.8" y2="864.5" stroke="#1e1e1e" stroke-width="1.2"/>
<line x1="900.8" y1="999.5" x2="1045.8" y2="999.5" stroke="#1e1e1e" stroke-width="1.2"/>
<line x1="913.5" y1="780.1" x2="913.5" y2="1041.9" stroke="#1e1e1e" stroke-width="1.2"/>
<line x1="1030.5" y1="780.1" x2="1030.5" y2="1041.9" stroke="#1e1e1e" stroke-width="1.2"/>
<line x1="1045.5" y1="779" x2="1045.5" y2="1044.3" stroke="#1e1e1e" stroke-width="1.2"/>
<path d="M 907 782 L 898 782 L 898 790 L 907 790" stroke="#1e1e1e" stroke-width="1.1" fill="none"/>
<path d="M 907 808 L 898 808 L 898 818 L 907 818" stroke="#1e1e1e" stroke-width="1.1" fill="none"/>
<path d="M 907 847 L 898 847 L 898 863 L 907 863" stroke="#1e1e1e" stroke-width="1.1" fill="none"/>
<rect x="977.3" y="864.7" width="42.3" height="93.6" stroke="#1e1e1e" stroke-width="1.8" fill="none" rx="21"/>
<circle cx="998.4" cy="874.4" r="9" stroke="#1e1e1e" stroke-width="1.1" fill="none"/>
<circle cx="998.4" cy="948.2" r="9" stroke="#1e1e1e" stroke-width="1.1" fill="none"/>
<ellipse cx="1020.6" cy="790.6" rx="4" ry="2.5" stroke="#1e1e1e" stroke-width="1.4" fill="none"/>
<ellipse cx="1020.6" cy="813.4" rx="4.5" ry="3" stroke="#1e1e1e" stroke-width="1.4" fill="none"/>
<ellipse cx="1020.6" cy="841.5" rx="4.5" ry="3.5" stroke="#1e1e1e" stroke-width="1.4" fill="none"/>
<ellipse cx="968.8" cy="1010.7" rx="11" ry="8" stroke="#1e1e1e" stroke-width="1.4" fill="none"/>
<line x1="967.5" y1="1003" x2="967.5" y2="1018" stroke="#1e1e1e" stroke-width="1"/>
<line x1="970.5" y1="1003" x2="970.5" y2="1018" stroke="#1e1e1e" stroke-width="1"/>
<circle cx="904.8" cy="1015.7" r="5" stroke="#1e1e1e" stroke-width="1.4" fill="none"/>
<circle cx="904.8" cy="1015.7" r="2.8" stroke="#1e1e1e" stroke-width="1.1" fill="none"/>
<circle cx="1056.8" cy="911.4" r="3" stroke="#1e1e1e" stroke-width="1.4" fill="none"/>
<rect x="876" y="905" width="5" height="20" stroke="#1e1e1e" stroke-width="1.1" fill="none" rx="2.5"/>
<rect x="894.5" y="960" width="5" height="15" stroke="#1e1e1e" stroke-width="1.1" fill="none" rx="2.5"/>
<rect x="894.5" y="993" width="5" height="14" stroke="#1e1e1e" stroke-width="1.1" fill="none" rx="2.5"/>
<rect x="879.5" y="1023" width="5" height="14" stroke="#1e1e1e" stroke-width="1.1" fill="none" rx="2.5"/>
<line x1="1045.8" y1="779.5" x2="1346.4" y2="779.5" stroke="#1e1e1e" stroke-width="1.2"/>
<line x1="1045.8" y1="1044.5" x2="1346.4" y2="1044.5" stroke="#1e1e1e" stroke-width="1.2"/>
<line x1="1045.8" y1="867.5" x2="1346.4" y2="867.5" stroke="#1e1e1e" stroke-width="1.2"/>
<line x1="1045.8" y1="1003.5" x2="1346.4" y2="1003.5" stroke="#1e1e1e" stroke-width="1.2"/>
<line x1="1045.8" y1="1018.5" x2="1346.4" y2="1018.5" stroke="#1e1e1e" stroke-width="1.2"/>
<line x1="1045.8" y1="1024.5" x2="1346.4" y2="1024.5" stroke="#1e1e1e" stroke-width="1.2"/>
<line x1="1045.8" y1="1026.5" x2="1346.4" y2="1026.5" stroke="#1e1e1e" stroke-width="1.2"/>
<line x1="1346.5" y1="779.5" x2="1346.5" y2="1044.3" stroke="#1e1e1e" stroke-width="1.2"/>
<line x1="1362.5" y1="780" x2="1362.5" y2="1043.7" stroke="#1e1e1e" stroke-width="1.2"/>
<line x1="1346.4" y1="780.5" x2="1362.3" y2="780.5" stroke="#1e1e1e" stroke-width="1.2"/>
<line x1="1346.4" y1="865.5" x2="1362.3" y2="865.5" stroke="#1e1e1e" stroke-width="1.2"/>
<line x1="1346.4" y1="958.5" x2="1362.3" y2="958.5" stroke="#1e1e1e" stroke-width="1.2"/>
<line x1="1346.4" y1="1043.5" x2="1362.3" y2="1043.5" stroke="#1e1e1e" stroke-width="1.2"/>
<circle cx="1057.1" cy="911.4" r="3.5" stroke="#1e1e1e" stroke-width="1.6" fill="none"/>
<circle cx="1157.8" cy="911.4" r="4.3" stroke="#1e1e1e" stroke-width="2.8" fill="none"/>
<circle cx="1256.4" cy="911.4" r="4.3" stroke="#1e1e1e" stroke-width="2.8" fill="none"/>
<path d="M 1192 782 L 1200 782 Q 1200 787 1196 787 Q 1192 787 1192 782" stroke="#1e1e1e" stroke-width="1.1" fill="none"/>
<path d="M 1241.4 782 L 1249.4 782 Q 1249.4 787 1245.4 787 Q 1241.4 787 1241.4 782" stroke="#1e1e1e" stroke-width="1.1" fill="none"/>
<rect x="1058.1" y="1044.3" width="123.4" height="12.1" stroke="#1e1e1e" stroke-width="1.2" fill="none"/>
<line x1="1155.5" y1="1044.3" x2="1155.5" y2="1056.4" stroke="#1e1e1e" stroke-width="1.2"/>
<line x1="1181.5" y1="1051.5" x2="1225" y2="1051.5" stroke="#1e1e1e" stroke-width="1"/>
<line x1="1167.4" y1="1040.5" x2="1273.5" y2="1040.5" stroke="#1e1e1e" stroke-width="1" stroke-dasharray="10 4"/>
<line x1="1220.5" y1="1032" x2="1220.5" y2="1052" stroke="#1e1e1e" stroke-width="1" stroke-dasharray="6 2"/>
<rect x="1225.2" y="1044.3" width="13.1" height="9" stroke="#1e1e1e" stroke-width="1.2" fill="none"/>
<rect x="1226" y="1053.3" width="11.5" height="64" stroke="#1e1e1e" stroke-width="1.2" fill="none" rx="1.5"/>
<rect x="1362.3" y="823.2" width="55.4" height="177.3" stroke="#1e1e1e" stroke-width="1.2" fill="none"/>
<line x1="1365.5" y1="823.5" x2="1365.5" y2="1000.2" stroke="#1e1e1e" stroke-width="1"/>
<rect x="1417.7" y="824" width="13.2" height="175.6" stroke="#1e1e1e" stroke-width="1.2" fill="none"/>
<line x1="1425.5" y1="824" x2="1425.5" y2="999.6" stroke="#1e1e1e" stroke-width="1"/>
<rect x="1430.9" y="825" width="5.8" height="10.6" stroke="#1e1e1e" stroke-width="1.1" fill="none"/>
<rect x="1430.9" y="849.7" width="5.8" height="9.7" stroke="#1e1e1e" stroke-width="1.1" fill="none"/>
<rect x="1430.9" y="906" width="5.8" height="10.7" stroke="#1e1e1e" stroke-width="1.1" fill="none"/>
<rect x="1430.9" y="964.3" width="5.8" height="10.6" stroke="#1e1e1e" stroke-width="1.1" fill="none"/>
<rect x="1430.9" y="988" width="5.8" height="10.7" stroke="#1e1e1e" stroke-width="1.1" fill="none"/>
<line x1="1431.8" y1="836" x2="1433.5" y2="986" stroke="#1e1e1e" stroke-width="2.6"/>
<rect x="1432.3" y="836.4" width="26.8" height="149.9" stroke="#1e1e1e" stroke-width="1.2" fill="none"/>
<line x1="1459.1" y1="836.4" x2="1459.1" y2="986.3" stroke="#1e1e1e" stroke-width="2.4"/>
<rect x="1459.1" y="894.3" width="7.6" height="16.5" stroke="#1e1e1e" stroke-width="1.2" fill="none" rx="1"/>
<rect x="1459.1" y="912" width="7.6" height="17" stroke="#1e1e1e" stroke-width="1.2" fill="none" rx="1"/>
<circle cx="1453.5" cy="911.4" r="2.8" stroke="#1e1e1e" stroke-width="1.5" fill="none"/>
<line x1="792" y1="911.5" x2="1495" y2="911.5" stroke="#1f4f82" stroke-width="1.2" stroke-dasharray="58 6 8 6"/>
<line x1="1362" y1="823.5" x2="1577.8" y2="823.5" stroke="#0c4a8a" stroke-width="1.2"/>
<line x1="1365" y1="1000.5" x2="1577.8" y2="1000.5" stroke="#0c4a8a" stroke-width="1.2"/>
<line x1="1574.5" y1="823.2" x2="1574.5" y2="1000.5" stroke="#0c4a8a" stroke-width="1.2"/>
<path d="M1574.3 823.2 L1577.5 837.2 L1571.1 837.2Z" stroke="none" stroke-width="0" fill="#0c4a8a"/>
<path d="M1574.3 1000.5 L1571.1 986.5 L1577.5 986.5Z" stroke="none" stroke-width="0" fill="#0c4a8a"/>
<text x="0" y="0" font-family="Liberation Sans" font-size="25" fill="#0b3f76" stroke="#0b3f76" stroke-width="0.45" textLength="101.4" lengthAdjust="spacingAndGlyphs" transform="translate(1568.1,966.1) rotate(-90)">Ø 100 h7</text>
<line x1="1362.5" y1="1050.7" x2="1362.5" y2="1099.2" stroke="#0c4a8a" stroke-width="1.2"/>
<line x1="1459.5" y1="986.3" x2="1459.5" y2="1175" stroke="#0c4a8a" stroke-width="1.2"/>
<line x1="1362.3" y1="1095.5" x2="1459.6" y2="1095.5" stroke="#0c4a8a" stroke-width="1.2"/>
<path d="M1362.3 1095.7 L1376.3 1092.5 L1376.3 1098.9Z" stroke="none" stroke-width="0" fill="#0c4a8a"/>
<path d="M1459.6 1095.7 L1445.6 1098.9 L1445.6 1092.5Z" stroke="none" stroke-width="0" fill="#0c4a8a"/>
<text x="1397.9" y="1088.6" font-family="Liberation Sans" font-size="25" fill="#0b3f76" stroke="#0b3f76" stroke-width="0.45" textLength="25.2" lengthAdjust="spacingAndGlyphs">55</text>
<line x1="875.5" y1="1050" x2="875.5" y2="1175" stroke="#0c4a8a" stroke-width="1.2"/>
<line x1="875.6" y1="1166.5" x2="1459.6" y2="1166.5" stroke="#0c4a8a" stroke-width="1.2"/>
<path d="M875.6 1166.2 L889.6 1163 L889.6 1169.4Z" stroke="none" stroke-width="0" fill="#0c4a8a"/>
<path d="M1459.6 1166.2 L1445.6 1169.4 L1445.6 1163Z" stroke="none" stroke-width="0" fill="#0c4a8a"/>
<text x="1143.7" y="1160.6" font-family="Liberation Sans" font-size="25" fill="#0b3f76" stroke="#0b3f76" stroke-width="0.45" textLength="63.4" lengthAdjust="spacingAndGlyphs">330,5</text>
<path d="M184.25 1334.05 L195.75 1334.05 M189.25 1334.05 L189.25 1347.55 M184.25 1349.44 L195.75 1345.66 M196.25 1337.29 L207.50 1337.29 L206.50 1353.22 L203.25 1354.30 M201.25 1330.54 L200.50 1342.69 L197.50 1349.98 L188.25 1357.00" stroke="#c5e3f5" stroke-width="1.1" fill="none" stroke-linecap="round" stroke-linejoin="round"/>
<path d="M225.60 1330.27 L227.85 1332.16 M215.85 1333.51 L237.85 1333.51 M227.85 1335.13 L223.60 1338.91 L229.10 1340.80 L224.60 1343.77 L232.10 1342.69 M218.35 1338.10 L221.35 1341.34 M216.60 1345.12 L220.10 1342.69 M235.10 1335.94 L232.10 1338.37 M232.10 1340.80 L237.35 1343.50 M214.60 1348.63 L239.10 1348.63 M226.85 1343.77 L226.85 1357.00" stroke="#c5e3f5" stroke-width="1.1" fill="none" stroke-linecap="round" stroke-linejoin="round"/>
<path d="M244.20 1336.75 L268.70 1336.75 L268.70 1355.11 L244.20 1355.11 L244.20 1336.75 M253.20 1330.00 L253.20 1355.11 M260.95 1330.00 L260.95 1355.11 M244.20 1345.66 L268.70 1345.66" stroke="#c5e3f5" stroke-width="1.1" fill="none" stroke-linecap="round" stroke-linejoin="round"/>
<path d="M280.05 1330.54 L275.30 1340.26 L279.55 1340.26 M281.30 1337.29 L274.80 1348.09 L280.55 1346.20 M274.80 1355.11 L281.30 1351.06 M285.05 1339.45 L297.30 1336.48 M283.30 1346.20 L298.80 1342.69 M288.05 1330.54 L299.30 1355.92 M291.80 1331.89 L294.55 1334.32 M298.30 1347.28 L291.80 1354.03" stroke="#c5e3f5" stroke-width="1.1" fill="none" stroke-linecap="round" stroke-linejoin="round"/>
<path d="M304.90 1331.35 L328.90 1331.35 L328.90 1356.46 L304.90 1356.46 L304.90 1331.35 M314.40 1335.40 L309.15 1342.15 M312.15 1337.29 L322.65 1337.29 L311.15 1348.09 M314.40 1341.34 L324.65 1347.28 M314.40 1349.17 L318.40 1351.06 M312.15 1352.14 L319.40 1354.03" stroke="#c5e3f5" stroke-width="1.1" fill="none" stroke-linecap="round" stroke-linejoin="round"/>
<path d="M288.23 2150.69 L298.57 2150.69 M292.73 2150.69 L292.73 2162.34 M288.23 2163.98 L298.57 2160.71 M299.02 2153.49 L309.15 2153.49 L308.25 2167.24 L305.32 2168.17 M303.52 2147.67 L302.85 2158.15 L300.15 2164.44 L291.82 2170.50" stroke="#1e1e1e" stroke-width="1.25" fill="none" stroke-linecap="round" stroke-linejoin="round"/>
<path d="M323.15 2147.43 L325.18 2149.06 M314.38 2150.23 L334.18 2150.23 M325.18 2151.63 L321.35 2154.89 L326.30 2156.52 L322.25 2159.08 L329.00 2158.15 M316.62 2154.19 L319.32 2156.99 M315.05 2160.25 L318.20 2158.15 M331.70 2152.33 L329.00 2154.42 M329.00 2156.52 L333.73 2158.85 M313.25 2163.28 L335.30 2163.28 M324.28 2159.08 L324.28 2170.50" stroke="#1e1e1e" stroke-width="1.25" fill="none" stroke-linecap="round" stroke-linejoin="round"/>
<path d="M643.35 2153.72 L651.23 2153.72 M647.40 2147.20 L647.40 2169.10 L645.38 2170.27 M643.35 2161.88 L651.90 2157.92 M652.57 2149.06 L662.70 2149.06 L662.70 2168.40 M655.73 2158.38 L663.82 2158.38 M655.73 2149.06 L655.73 2168.40 M648.52 2168.87 L665.40 2168.87" stroke="#1e1e1e" stroke-width="1.25" fill="none" stroke-linecap="round" stroke-linejoin="round"/>
<path d="M673.55 2147.43 L670.17 2154.19 M670.85 2152.56 L677.82 2152.56 M668.82 2158.15 L678.27 2158.15 M674.00 2152.56 L674.00 2161.18 L667.70 2170.50 M674.67 2161.65 L678.27 2166.31 M680.07 2150.00 L689.07 2150.00 M680.07 2150.00 L680.07 2169.10 M680.30 2156.75 L687.27 2156.75 L687.27 2163.51 L680.30 2163.51 M680.07 2169.10 L690.20 2169.10" stroke="#1e1e1e" stroke-width="1.25" fill="none" stroke-linecap="round" stroke-linejoin="round"/>
<path d="M991.23 2150.69 L1001.58 2150.69 M995.73 2150.69 L995.73 2162.34 M991.23 2163.98 L1001.58 2160.71 M1002.02 2153.49 L1012.15 2153.49 L1011.25 2167.24 L1008.33 2168.17 M1006.52 2147.67 L1005.85 2158.15 L1003.15 2164.44 L994.83 2170.50" stroke="#1e1e1e" stroke-width="1.25" fill="none" stroke-linecap="round" stroke-linejoin="round"/>
<path d="M1026.15 2147.43 L1028.17 2149.06 M1017.38 2150.23 L1037.17 2150.23 M1028.17 2151.63 L1024.35 2154.89 L1029.30 2156.52 L1025.25 2159.08 L1032.00 2158.15 M1019.62 2154.19 L1022.32 2156.99 M1018.05 2160.25 L1021.20 2158.15 M1034.70 2152.33 L1032.00 2154.42 M1032.00 2156.52 L1036.72 2158.85 M1016.25 2163.28 L1038.30 2163.28 M1027.27 2159.08 L1027.27 2170.50" stroke="#1e1e1e" stroke-width="1.25" fill="none" stroke-linecap="round" stroke-linejoin="round"/>
<path d="M1366.15 2153.72 L1374.03 2153.72 M1370.20 2147.20 L1370.20 2169.10 L1368.17 2170.27 M1366.15 2161.88 L1374.70 2157.92 M1375.38 2149.06 L1385.50 2149.06 L1385.50 2168.40 M1378.53 2158.38 L1386.62 2158.38 M1378.53 2149.06 L1378.53 2168.40 M1371.33 2168.87 L1388.20 2168.87" stroke="#1e1e1e" stroke-width="1.25" fill="none" stroke-linecap="round" stroke-linejoin="round"/>
<path d="M1396.35 2147.43 L1392.97 2154.19 M1393.65 2152.56 L1400.62 2152.56 M1391.62 2158.15 L1401.08 2158.15 M1396.80 2152.56 L1396.80 2161.18 L1390.50 2170.50 M1397.47 2161.65 L1401.08 2166.31 M1402.88 2150.00 L1411.88 2150.00 M1402.88 2150.00 L1402.88 2169.10 M1403.10 2156.75 L1410.08 2156.75 L1410.08 2163.51 L1403.10 2163.51 M1402.88 2169.10 L1413.00 2169.10" stroke="#1e1e1e" stroke-width="1.25" fill="none" stroke-linecap="round" stroke-linejoin="round"/>

</svg>
</body></html>
